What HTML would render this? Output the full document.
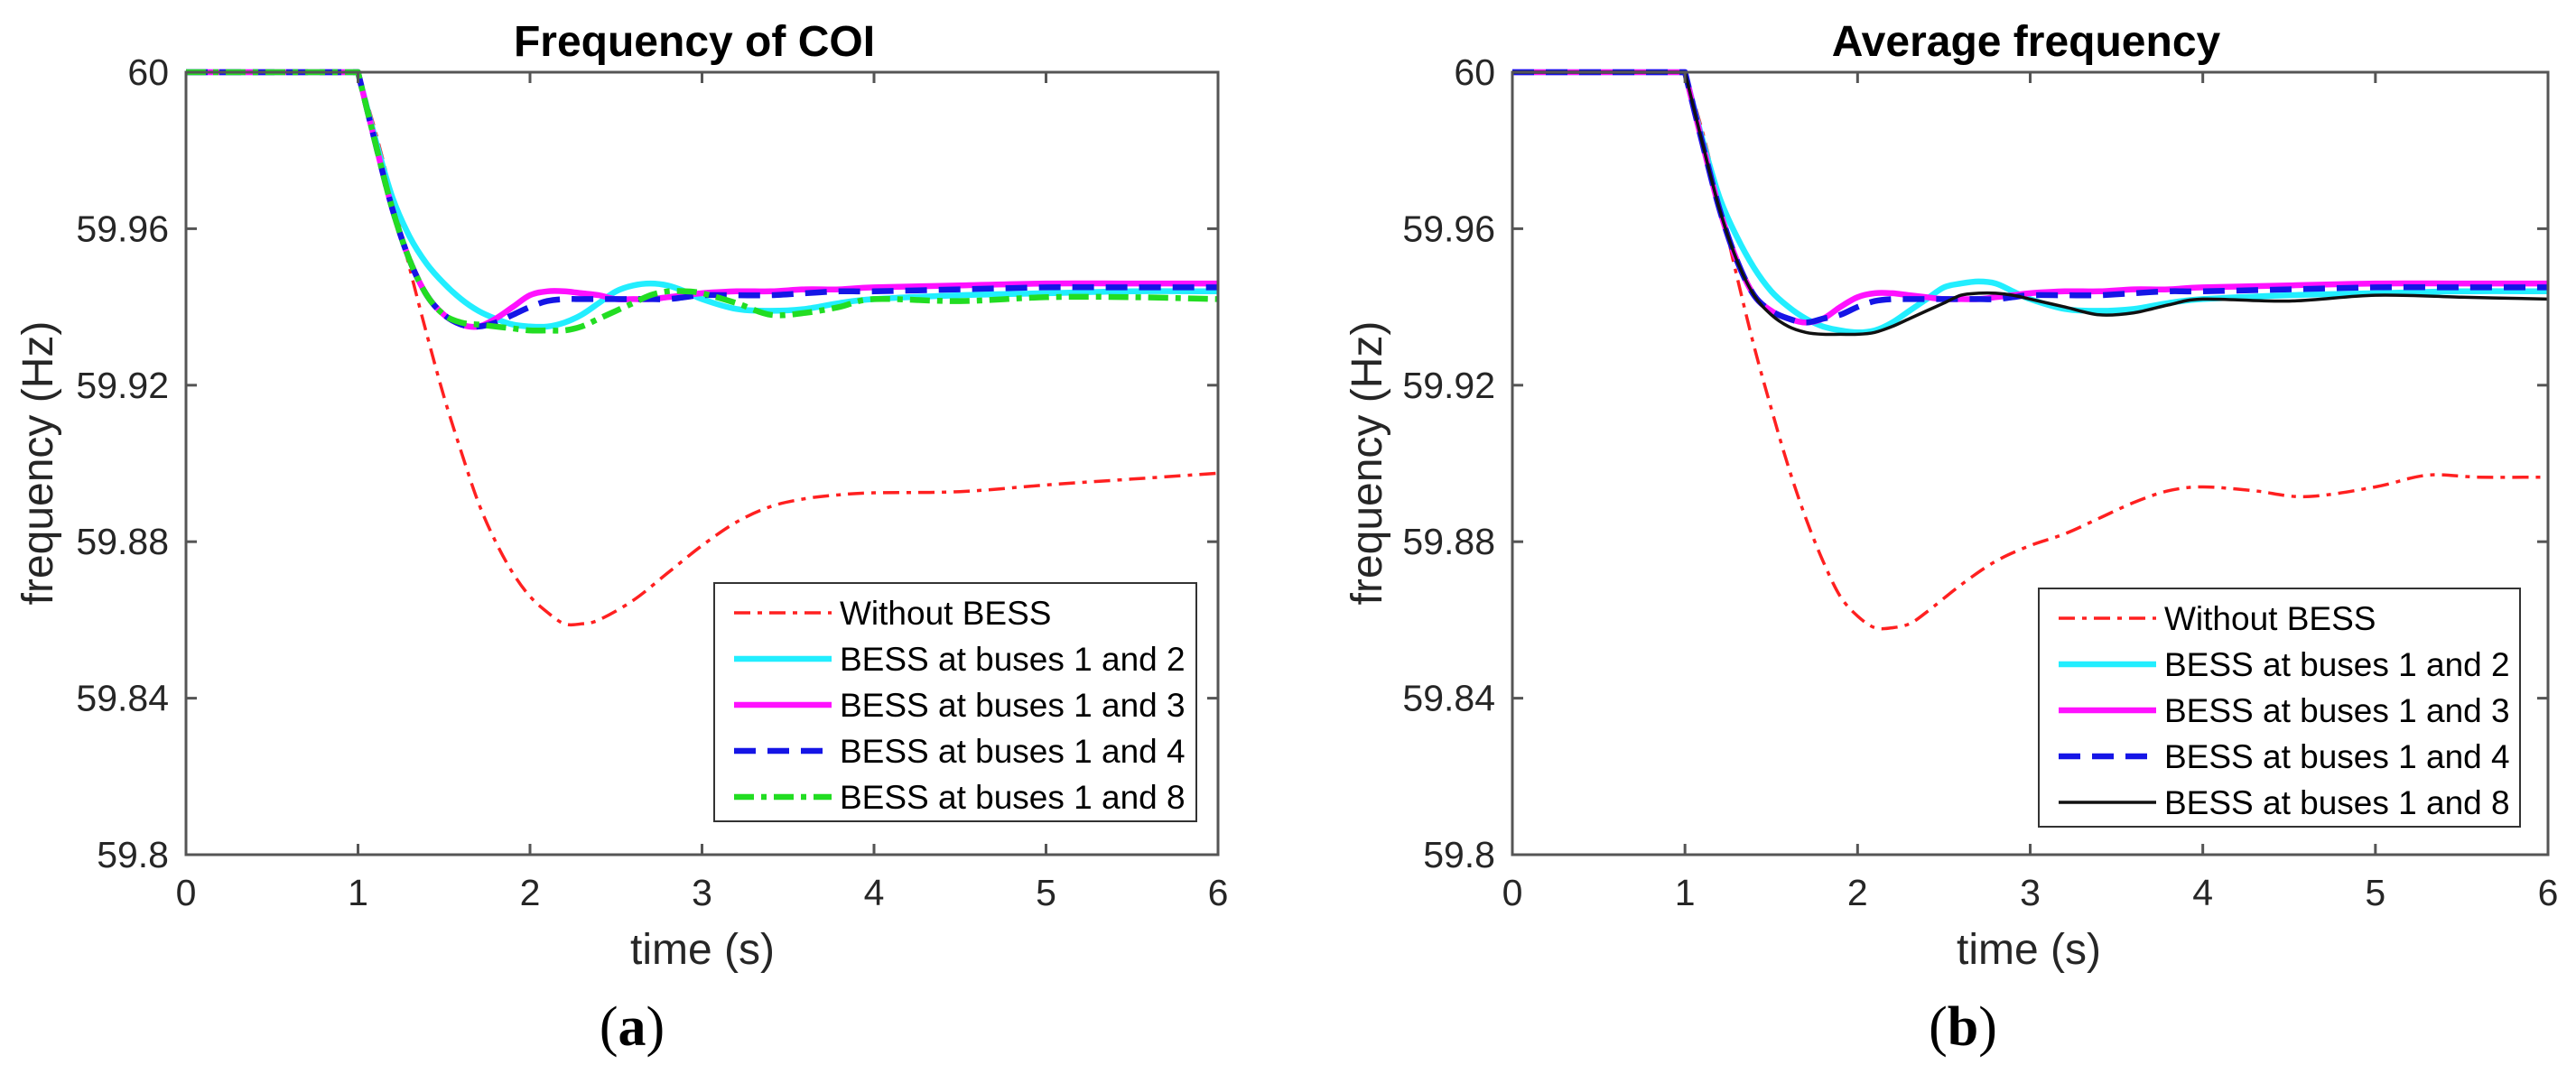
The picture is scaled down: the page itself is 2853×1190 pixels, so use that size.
<!DOCTYPE html>
<html><head><meta charset="utf-8"><style>
html,body{margin:0;padding:0;background:#fff;}
svg{display:block;font-family:"Liberation Sans",Arial,sans-serif;}
</style></head><body>
<svg id="fig" width="2853" height="1190" viewBox="0 0 2853 1190"></svg>
<script>
// Shared axis ticks
const xTicks = [0,1,2,3,4,5,6];
const yTicks = [59.8,59.84,59.88,59.92,59.96,60];
const yTickLabels = ["59.8","59.84","59.88","59.92","59.96","60"];

// Panel (a) data
const tA = [0,1,1.1,1.2,1.3,1.4,1.5,1.6,1.7,1.8,1.9,2,2.1,2.2,2.3,2.4,2.6,2.8,3,3.2,3.4,3.6,3.8,4,4.5,5,5.5,6];
const redA = [60,60,59.985,59.968,59.95,59.933,59.917,59.903,59.89,59.88,59.872,59.866,59.862,59.859,59.859,59.860,59.865,59.872,59.879,59.885,59.889,59.891,59.892,59.8925,59.8928,59.8945,59.896,59.8975];
const tB = [0,1,1.1,1.2,1.3,1.4,1.5,1.6,1.7,1.8,1.9,2,2.1,2.2,2.3,2.4,2.5,2.6,2.7,2.8,2.9,3,3.2,3.4,3.6,3.8,4,4.5,5,5.5,6];
const cyanA = [60,60,59.983,59.968,59.958,59.951,59.946,59.942,59.939,59.937,59.9355,59.935,59.935,59.936,59.938,59.941,59.944,59.9455,59.946,59.9455,59.944,59.942,59.9395,59.939,59.9395,59.941,59.942,59.943,59.9435,59.944,59.944];
const magentaA = [60,60,59.982,59.965,59.952,59.943,59.938,59.9355,59.935,59.937,59.940,59.943,59.944,59.944,59.9435,59.943,59.942,59.942,59.942,59.9425,59.943,59.9435,59.944,59.944,59.9445,59.9445,59.945,59.9455,59.946,59.946,59.946];
const blueA = [60,60,59.982,59.965,59.952,59.943,59.938,59.9355,59.935,59.936,59.938,59.940,59.9415,59.942,59.942,59.942,59.942,59.942,59.942,59.942,59.9425,59.943,59.943,59.943,59.9435,59.944,59.944,59.9445,59.945,59.945,59.945];
const greenA = [60,60,59.982,59.965,59.952,59.943,59.938,59.936,59.9355,59.935,59.9345,59.934,59.934,59.934,59.935,59.937,59.939,59.941,59.943,59.944,59.944,59.9435,59.941,59.938,59.9385,59.940,59.942,59.9415,59.9425,59.9425,59.942];

// Panel (b) data
const tR = [0,1,1.1,1.2,1.3,1.4,1.5,1.6,1.7,1.8,1.9,2,2.1,2.2,2.3,2.4,2.6,2.8,3,3.2,3.4,3.6,3.8,4,4.3,4.6,5,5.3,5.6,6];
const redB = [60,60,59.985,59.967,59.948,59.93,59.914,59.899,59.886,59.875,59.866,59.861,59.858,59.858,59.859,59.862,59.869,59.875,59.879,59.882,59.886,59.890,59.893,59.894,59.893,59.8915,59.894,59.897,59.8965,59.8965];
const cyanB = [60,60,59.983,59.968,59.958,59.950,59.944,59.940,59.937,59.935,59.934,59.9335,59.934,59.936,59.939,59.942,59.945,59.946,59.9465,59.946,59.944,59.942,59.9395,59.939,59.9395,59.941,59.942,59.943,59.9435,59.944,59.944];
const magentaB = [60,60,59.982,59.965,59.952,59.943,59.939,59.937,59.936,59.937,59.940,59.9425,59.9435,59.9435,59.943,59.9425,59.942,59.942,59.942,59.9425,59.943,59.9435,59.944,59.944,59.9445,59.9445,59.945,59.9455,59.946,59.946,59.946];
const blueB = [60,60,59.982,59.965,59.952,59.943,59.939,59.937,59.936,59.937,59.938,59.940,59.9415,59.942,59.942,59.942,59.942,59.942,59.942,59.942,59.9425,59.943,59.943,59.943,59.9435,59.944,59.944,59.9445,59.945,59.945,59.945];
const blackB = [60,60,59.982,59.965,59.952,59.943,59.938,59.935,59.9335,59.933,59.933,59.933,59.9335,59.935,59.937,59.939,59.941,59.943,59.9435,59.9435,59.943,59.942,59.940,59.938,59.9385,59.9405,59.942,59.9415,59.943,59.9425,59.942];

const NS = "http://www.w3.org/2000/svg";
const svg = document.getElementById('fig');
function mk(tag, attrs, parent){
  const e = document.createElementNS(NS, tag);
  for (const k in attrs) e.setAttribute(k, attrs[k]);
  (parent||svg).appendChild(e);
  return e;
}
function txt(parent, s, attrs){ const e = mk('text', attrs, parent); e.textContent = s; return e; }

function panel(cfg){
  const g = mk('g', {});
  
  
  const L = cfg.left, R = cfg.right, T = 80, B = 947;
  const xs = v => L + (v - 0) / 6 * (R - L);
  const ys = v => B - (v - 59.8) / 0.2 * (B - T);
  const sg = mk('g', {fill:'none','stroke-linejoin':'round'}, g);
  
  
  cfg.series.forEach(s => {
    const pts = s.t.map((t,i) => [xs(t), ys(s.v[i])]);
    let d = 'M' + pts[0][0].toFixed(1) + ',' + pts[0][1].toFixed(1);
    for (let i=0;i<pts.length-1;i++){
      const p0 = pts[Math.max(0,i-1)], p1 = pts[i], p2 = pts[i+1], p3 = pts[Math.min(pts.length-1,i+2)];
      const k1 = (i<=1) ? 0 : 1/6;
      const k2 = (i+1<=1) ? 0 : 1/6;
      const c1 = [p1[0]+(p2[0]-p0[0])*k1, p1[1]+(p2[1]-p0[1])*k1];
      const c2 = [p2[0]-(p3[0]-p1[0])*k2, p2[1]-(p3[1]-p1[1])*k2];
      d += ' C'+c1[0].toFixed(1)+','+c1[1].toFixed(1)+' '+c2[0].toFixed(1)+','+c2[1].toFixed(1)+' '+p2[0].toFixed(1)+','+p2[1].toFixed(1);
    }
    const p = mk('path', {d:d, stroke:s.color, 'stroke-width':s.w}, sg);
    if (s.dash) p.setAttribute('stroke-dasharray', s.dash);
    
    
  });
  const box = mk('rect', {x:L, y:T, width:R-L, height:B-T, fill:'none', stroke:'#555', 'stroke-width':3}, g);
  
  
  xTicks.forEach(v => {
    const x = xs(v);
    mk('line', {x1:x, x2:x, y1:B, y2:B-12, stroke:'#555','stroke-width':3}, g);
    mk('line', {x1:x, x2:x, y1:T, y2:T+12, stroke:'#555','stroke-width':3}, g);
    const tl = txt(g, String(v), {x:x, y:1003, 'font-size':41, 'text-anchor':'middle', fill:'#262626'});
    
    
  });
  yTicks.forEach((v,i) => {
    const y = ys(v);
    mk('line', {x1:L, x2:L+12, y1:y, y2:y, stroke:'#555','stroke-width':3}, g);
    mk('line', {x1:R, x2:R-12, y1:y, y2:y, stroke:'#555','stroke-width':3}, g);
    const tl = txt(g, yTickLabels[i], {x:L-19, y:y+14, 'font-size':41, 'text-anchor':'end', fill:'#262626'});
    
    
  });
  const ti = txt(g, cfg.title, {x:cfg.titleX, y:62, 'font-size':48, 'font-weight':'bold', 'text-anchor':'middle', fill:'#000'});
  
  
  const xl = txt(g, 'time (s)', {x:cfg.xlabX, y:1068, 'font-size':48, 'text-anchor':'middle', fill:'#262626'});
  
  
  const yl = txt(g, 'frequency (Hz)', {x:0, y:0, 'font-size':48, 'text-anchor':'middle', fill:'#262626', transform:'translate('+cfg.ylabX+',513) rotate(-90)'});
  
  
  const pl = txt(g, '', {x:cfg.capX, y:1158, 'font-size':62, 'text-anchor':'middle', fill:'#000', 'font-family':'"Liberation Serif",serif'});
  pl.innerHTML = '(<tspan font-weight="bold">' + cfg.cap + '</tspan>)';
  
  
  const lg = mk('g', {}, g);
  
  
  mk('rect', {x:cfg.leg.x, y:cfg.leg.y, width:cfg.leg.w, height:264, fill:'#fff', stroke:'#333', 'stroke-width':2}, lg);
  cfg.series.forEach((s,i) => {
    const y = cfg.leg.y + 33 + i*51;
    const e = mk('g', {}, lg);
    
    
    const ln = mk('line', {x1:cfg.leg.x+22, x2:cfg.leg.x+130, y1:y, y2:y, stroke:s.color, 'stroke-width':s.w}, e);
    if (s.dash) ln.setAttribute('stroke-dasharray', s.dash);
    txt(e, s.label, {x:cfg.leg.x+139, y:y+13, 'font-size':37, fill:'#000'});
  });
}

panel({name:'panel-a-frequency-of-coi', left:206, right:1349, title:'Frequency of COI', titleX:769, xlabX:778, ylabX:58, capX:700, cap:'a',
  leg:{x:791, y:646, w:534},
  series:[
    {id:'series-without-bess', label:'Without BESS', t:tA, v:redA, color:'#ff2020', w:3.5, dash:'18 8 5 8'},
    {id:'series-bess-1-2', label:'BESS at buses 1 and 2', t:tB, v:cyanA, color:'#22eeff', w:6.5},
    {id:'series-bess-1-3', label:'BESS at buses 1 and 3', t:tB, v:magentaA, color:'#ff11ff', w:6.5},
    {id:'series-bess-1-4', label:'BESS at buses 1 and 4', t:tB, v:blueA, color:'#1515e6', w:6.5, dash:'24 13'},
    {id:'series-bess-1-8', label:'BESS at buses 1 and 8', t:tB, v:greenA, color:'#22dd22', w:6.5, dash:'22 8 6 8'}
  ]});
panel({name:'panel-b-average-frequency', left:1675, right:2822, title:'Average frequency', titleX:2244, xlabX:2247, ylabX:1530, capX:2174, cap:'b',
  leg:{x:2258, y:652, w:533},
  series:[
    {id:'series-without-bess', label:'Without BESS', t:tR, v:redB, color:'#ff2020', w:3.5, dash:'18 8 5 8'},
    {id:'series-bess-1-2', label:'BESS at buses 1 and 2', t:tB, v:cyanB, color:'#22eeff', w:6.5},
    {id:'series-bess-1-3', label:'BESS at buses 1 and 3', t:tB, v:magentaB, color:'#ff11ff', w:6.5},
    {id:'series-bess-1-4', label:'BESS at buses 1 and 4', t:tB, v:blueB, color:'#1515e6', w:6.5, dash:'24 13'},
    {id:'series-bess-1-8', label:'BESS at buses 1 and 8', t:tB, v:blackB, color:'#111', w:3.5}
  ]});
</script>
</body></html>
